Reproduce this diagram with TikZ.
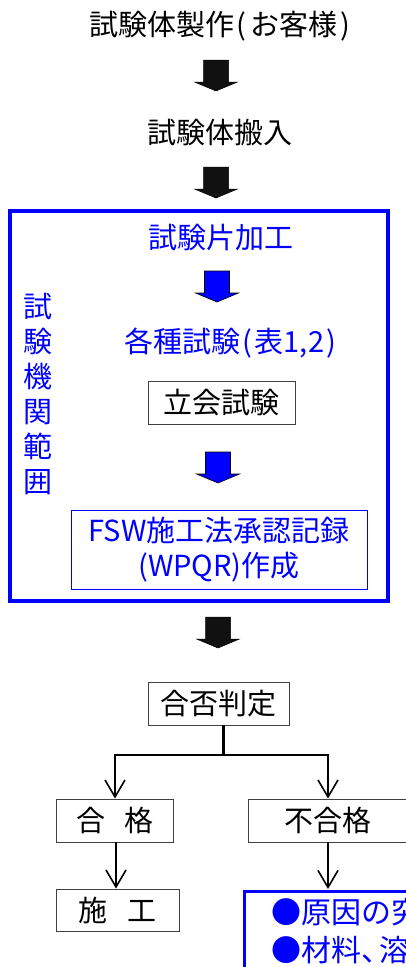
\documentclass[tikz,border=0pt]{standalone}
\usepackage{fontspec}
\setmainfont{Noto Sans CJK JP}
\usetikzlibrary{arrows.meta}
\definecolor{fblue}{RGB}{0,0,255}
\definecolor{arrblack}{RGB}{17,17,17}
\begin{document}
\begin{tikzpicture}[x=1pt,y=-1pt,
 txt/.style={inner sep=0pt, font=\fontsize{29}{35}\selectfont},
 bluetxt/.style={txt, text=fblue},
 box/.style={draw=black!75, line width=0.9pt, inner sep=0pt, font=\fontsize{29}{35}\selectfont},
 conn/.style={line width=1.6pt, -{Straight Barb[length=17pt,width=20pt,line width=1.6pt]}},
 blockarrow/.pic={\path[pic actions] (-12.5,0) -- (12.5,0) -- (12.5,22) -- (21.5,22) -- (0,31) -- (-21.5,22) -- (-12.5,22) -- cycle;},
 blackarr/.style={fill=arrblack, draw=black, line width=0.5pt},
 bluearr/.style={fill=fblue, draw=black, line width=0.6pt}
]
\path[use as bounding box] (0,0) rectangle (406,967);
\clip (0,0) rectangle (406,967);

% top part
\node[txt] (t1) at (220,26) {試験体製作\hspace{2pt}(\hspace{5pt}お客様\hspace{3pt})};
\pic[blackarr] (a1) at (216,60) {blockarrow};
\node[txt] (t2) at (220,133) {試験体搬入};
\pic[blackarr] (a2) at (216,167) {blockarrow};

% testing organisation frame
\draw[fblue, line width=4pt] (10,211) rectangle (388,601);
\node[bluetxt] (t3) at (221,238) {試験片加工};
\pic[bluearr] (a3) at (217,271) {blockarrow};
\node[bluetxt] (t4) at (230,343) {各種試験\hspace{2pt}(\hspace{3pt}表1,2\hspace{2pt})};
\node[box, minimum width=147pt, minimum height=43pt] (tachiai) at (221.5,402.5) {立会試験};
\pic[bluearr] (a4) at (218,452) {blockarrow};
\node[box, draw=fblue, text=fblue, line width=1pt, align=center, minimum width=296pt, minimum height=79pt] (wpqr) at (219,549.5) {FSW施工法承認記録\\(WPQR)作成};
\node[bluetxt, align=center] (vert) at (38,394.5) {試\\験\\機\\関\\範\\囲};

% judgement
\pic[blackarr] (a5) at (218,617) {blockarrow};
\node[box, minimum width=141pt, minimum height=43pt] (hantei) at (218.5,703.5) {合否判定};
\node[box, minimum width=117pt, minimum height=43pt] (gokaku) at (115,820.5) {合\hspace{20pt}格};
\node[box, minimum width=160pt, minimum height=43pt] (fugokaku) at (328,820.5) {不合格};
\node[box, minimum width=123pt, minimum height=42pt] (shiko) at (117.5,910) {施\hspace{20pt}工};

\coordinate (j) at (223,755);
\coordinate (bluetop) at (328,889);
\draw[line width=3pt] (hantei.south -| j) -- (j);
\draw[line width=2pt] ([xshift=-1pt]gokaku.north |- j) -- ([xshift=1pt]fugokaku.north |- j);
\draw[conn] (gokaku.north |- j) -- (gokaku.north);
\draw[conn] (fugokaku.north |- j) -- (fugokaku.north);
\draw[conn] ([xshift=1pt]gokaku.south) -- ([xshift=1pt]gokaku.south |- shiko.north);
\draw[conn] (fugokaku.south) -- (bluetop);

% countermeasure box (cut at the edge, as in the reference)
\draw[fblue, line width=3.5pt] (244.5,1000) -- (244.5,891.5) -- (430,891.5);
\node[bluetxt, font=\fontsize{30}{36}\selectfont, anchor=west] (c1) at (271,912) {●原因の究};
\node[bluetxt, font=\fontsize{30}{36}\selectfont, anchor=west] (c2) at (271,950) {●材料、\hspace{-12pt}溶};
\end{tikzpicture}
\end{document}
